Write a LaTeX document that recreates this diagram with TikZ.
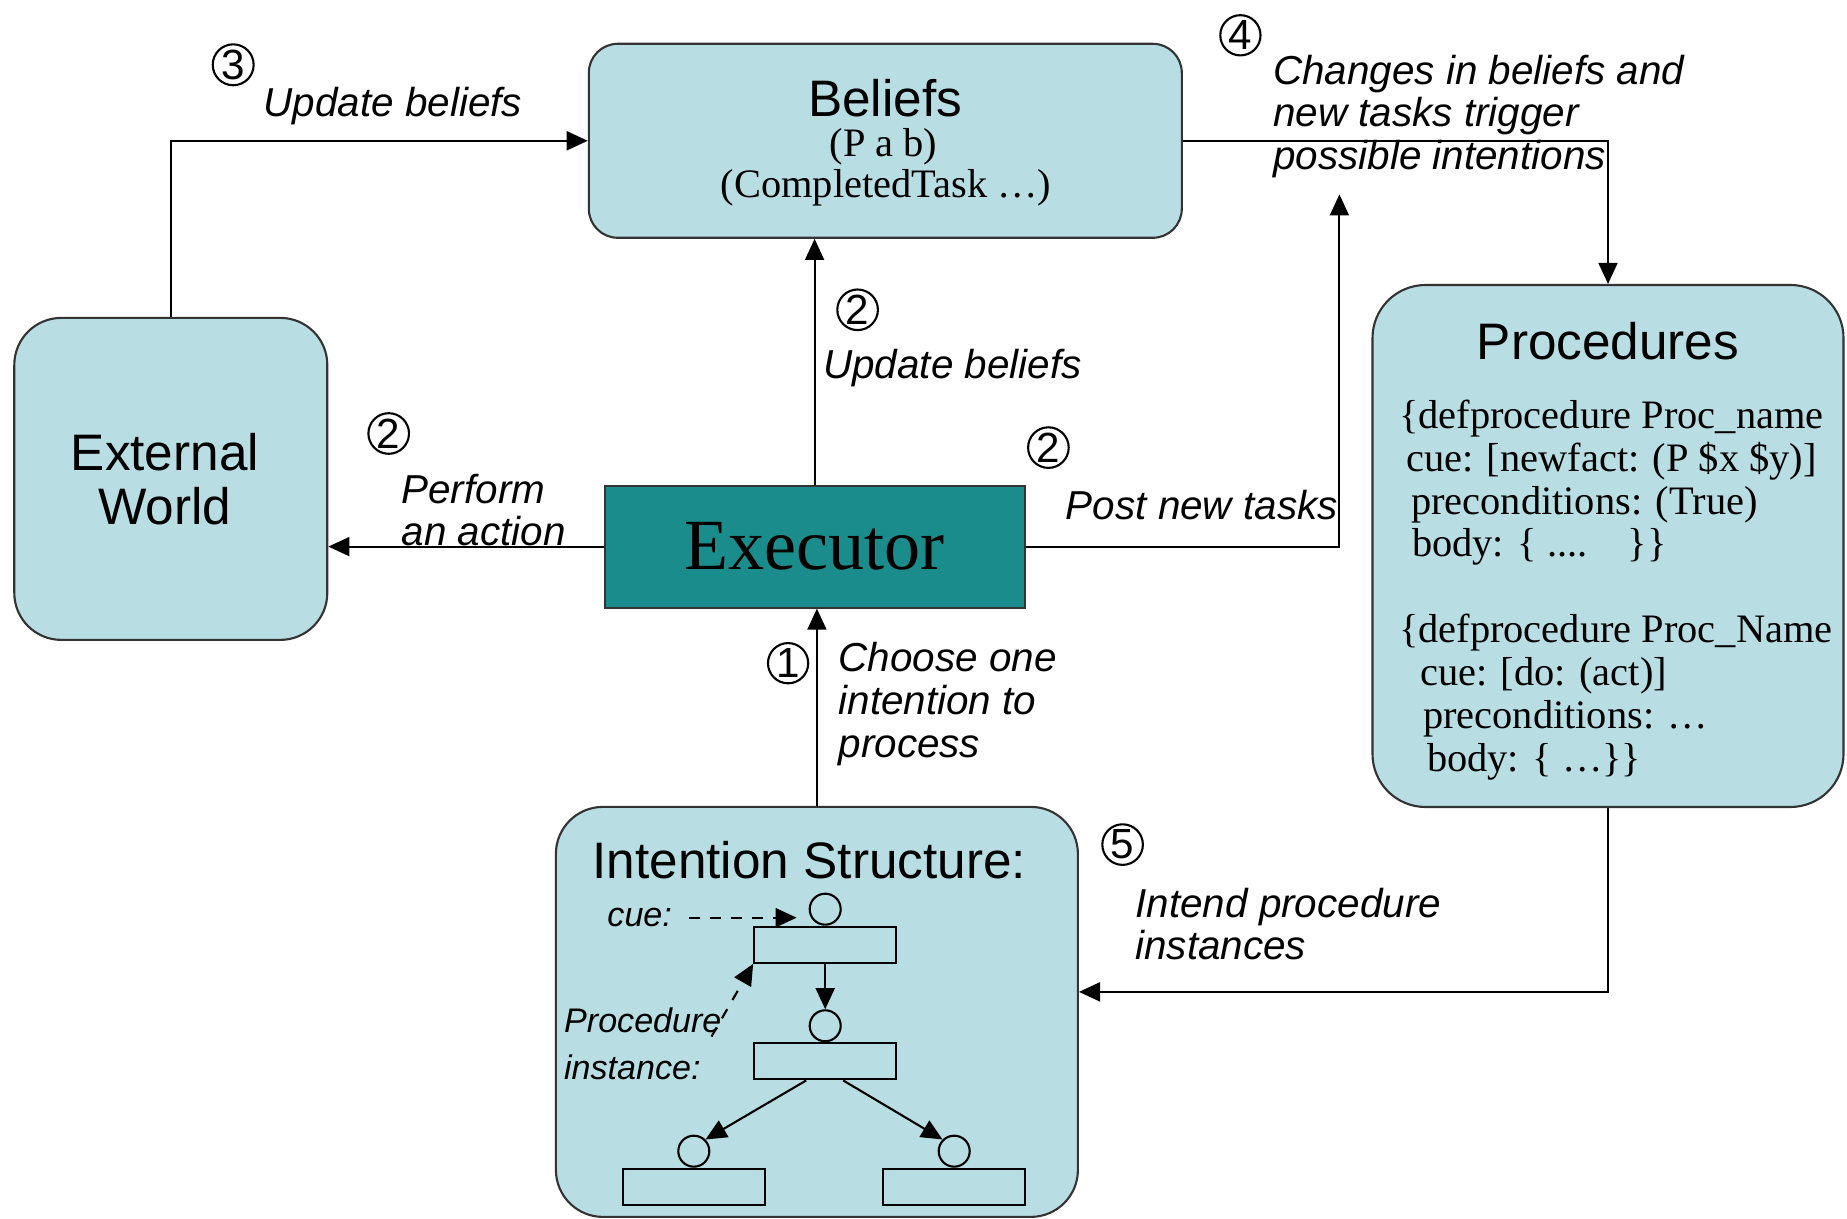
\documentclass[tikz,border=0pt]{standalone}
\usepackage{fontspec}
\setmainfont{Liberation Serif}
\setsansfont{Liberation Sans}
\usetikzlibrary{shapes, arrows.meta, positioning, calc}
\definecolor{boxblue}{RGB}{184,222,227}
\definecolor{execteal}{RGB}{26,140,140}
\tikzset{
  bluebox/.style={rectangle, rounded corners=0.47cm, draw=black!80, fill=boxblue},
  ttl/.style={font=\sffamily\fontsize{14.6}{15.4}\selectfont, inner sep=0pt, align=center},
  lbl/.style={font=\sffamily\itshape\fontsize{11.5}{12.2}\selectfont, inner sep=0pt, align=left, anchor=west},
  smalllbl/.style={font=\sffamily\itshape\fontsize{9.7}{13.4}\selectfont, inner sep=0pt, align=left},
  code/.style={font=\fontsize{11.5}{12.2}\selectfont, inner sep=0pt},
  numcirc/.style={circle, draw, inner sep=0.3pt, font=\sffamily\fontsize{12}{12}\selectfont},
  slot/.style={rectangle, draw, minimum width=1.42cm, minimum height=0.36cm, inner sep=0pt},
  knob/.style={circle, draw, minimum size=0.31cm, inner sep=0pt},
}

\begin{document}
\begin{tikzpicture}[>={Triangle[length=6pt,width=5.4pt]}, line width=0.6pt]
\useasboundingbox (0,0) rectangle (18.47,-12.19);
%main boxes
\node[bluebox, rounded corners=0.29cm, minimum width=5.93cm, minimum height=1.94cm] (beliefs) at (8.853,-1.408) {};
\node[bluebox, minimum width=3.13cm, minimum height=3.22cm] (ext) at (1.708,-4.789) {};
\node[rectangle, draw=black!80, fill=execteal, minimum width=4.2cm, minimum height=1.22cm, font=\fontsize{20.5}{21}\selectfont] (exec) at (8.146,-5.466) {Executor};
\node[bluebox, rounded corners=0.53cm, minimum width=4.71cm, minimum height=5.22cm] (proc) at (16.08,-5.46) {};
\node[bluebox, minimum width=5.22cm, minimum height=4.1cm] (intent) at (8.169,-10.119) {};
%box texts
\node[ttl] (beliefs_title) at (8.85,-0.978) {Beliefs};
\node[code] (beliefs_pab) at (8.835,-1.469) {(P a b)};
\node[code] (beliefs_done) at (8.86,-1.881) {(CompletedTask \dots)};
\node[ttl] (ext_title) at (1.649,-4.794) {External\\World};
\node[ttl] (proc_title) at (16.08,-3.416) {Procedures};
\node[code, align=left, anchor=west] (proc_code) at (13.98,-5.9) {\{defprocedure Proc\_name\\
\hspace*{0.07cm}cue: [newfact: (P \$x \$y)]\\
\hspace*{0.12cm}preconditions: (True)\\
\hspace*{0.13cm}body: \{ ....\ \ \ \ \}\}\\
~\\
\{defprocedure Proc\_Name\\
\hspace*{0.21cm}cue: [do: (act)]\\
\hspace*{0.24cm}preconditions: \dots\\
\hspace*{0.28cm}body: \{ \dots\}\}};
\node[ttl] (intent_title) at (8.093,-8.599) {Intention Structure:};
%intention structure inside
\node[slot] (r1) at (8.252,-9.448) {};
\node[knob, above=0pt of r1] (c1) {};
\node[slot] (r2) at (8.252,-10.614) {};
\node[knob, above=0pt of r2] (c2) {};
\node[slot] (r3) at (6.938,-11.868) {};
\node[knob, above=0pt of r3] (c3) {};
\node[slot] (r4) at (9.542,-11.868) {};
\node[knob, above=0pt of r4] (c4) {};
\node[smalllbl] (cue) at (6.397,-9.177) {cue:};
\node[smalllbl, anchor=west] (procinst) at (5.631,-10.437) {Procedure\\instance:};
\coordinate (instfoot) at (7.115,-10.366);
\draw[->] (r1.south) -- (c2.north);
\draw[->] ([xshift=-0.19cm]r2.south) -- (c3.north east);
\draw[->] ([xshift=0.18cm]r2.south) -- (c4.north west);
\draw[->, dashed, shorten <=1.6mm, shorten >=1.2mm] (cue.east) -- (cue.east -| c1.west);
\draw[->, dashed] (instfoot) -- (r1.south west);
%step numbers
\node[numcirc] (n3) at (2.332,-0.648) {3};
\node[numcirc] (n4) at (12.404,-0.353) {4};
\node[numcirc] (n2a) at (8.576,-3.098) {2};
\node[numcirc] (n2b) at (3.887,-4.335) {2};
\node[numcirc] (n2c) at (10.484,-4.476) {2};
\node[numcirc] (n1) at (7.881,-6.632) {1};
\node[numcirc] (n5) at (11.226,-8.446) {5};
%arrow labels
\node[lbl] (lbl3) at (2.627,-1.06) {Update beliefs};
\node[lbl] (lbl4) at (12.722,-1.165) {Changes in beliefs and\\new tasks trigger\\possible intentions};
\node[lbl] (lbl2a) at (8.222,-3.68) {Update beliefs};
\node[lbl] (lbl2b) at (4.005,-5.1) {Perform\\an action};
\node[lbl] (lbl2c) at (10.649,-5.05) {Post new tasks};
\node[lbl] (lbl1) at (8.376,-7.04) {Choose one\\intention to\\process};
\node[lbl] (lbl5) at (11.344,-9.24) {Intend procedure\\instances};
% links
\coordinate (posttip) at (13.394,-1.944);
\draw[->] (ext.north) |- (beliefs.west);
\draw[->] (beliefs.east) -| (proc.north);
\draw[->] (exec.north) -- (exec.north |- beliefs.south);
\draw[->] (exec.west) -- (exec.west -| ext.east);
\draw[->] (exec.east) -| (posttip);
\draw[->] (intent.north) -- (intent.north |- exec.south);
\draw[->] (proc.south) |- ([yshift=2mm]intent.east);
\end{tikzpicture}
\end{document}
